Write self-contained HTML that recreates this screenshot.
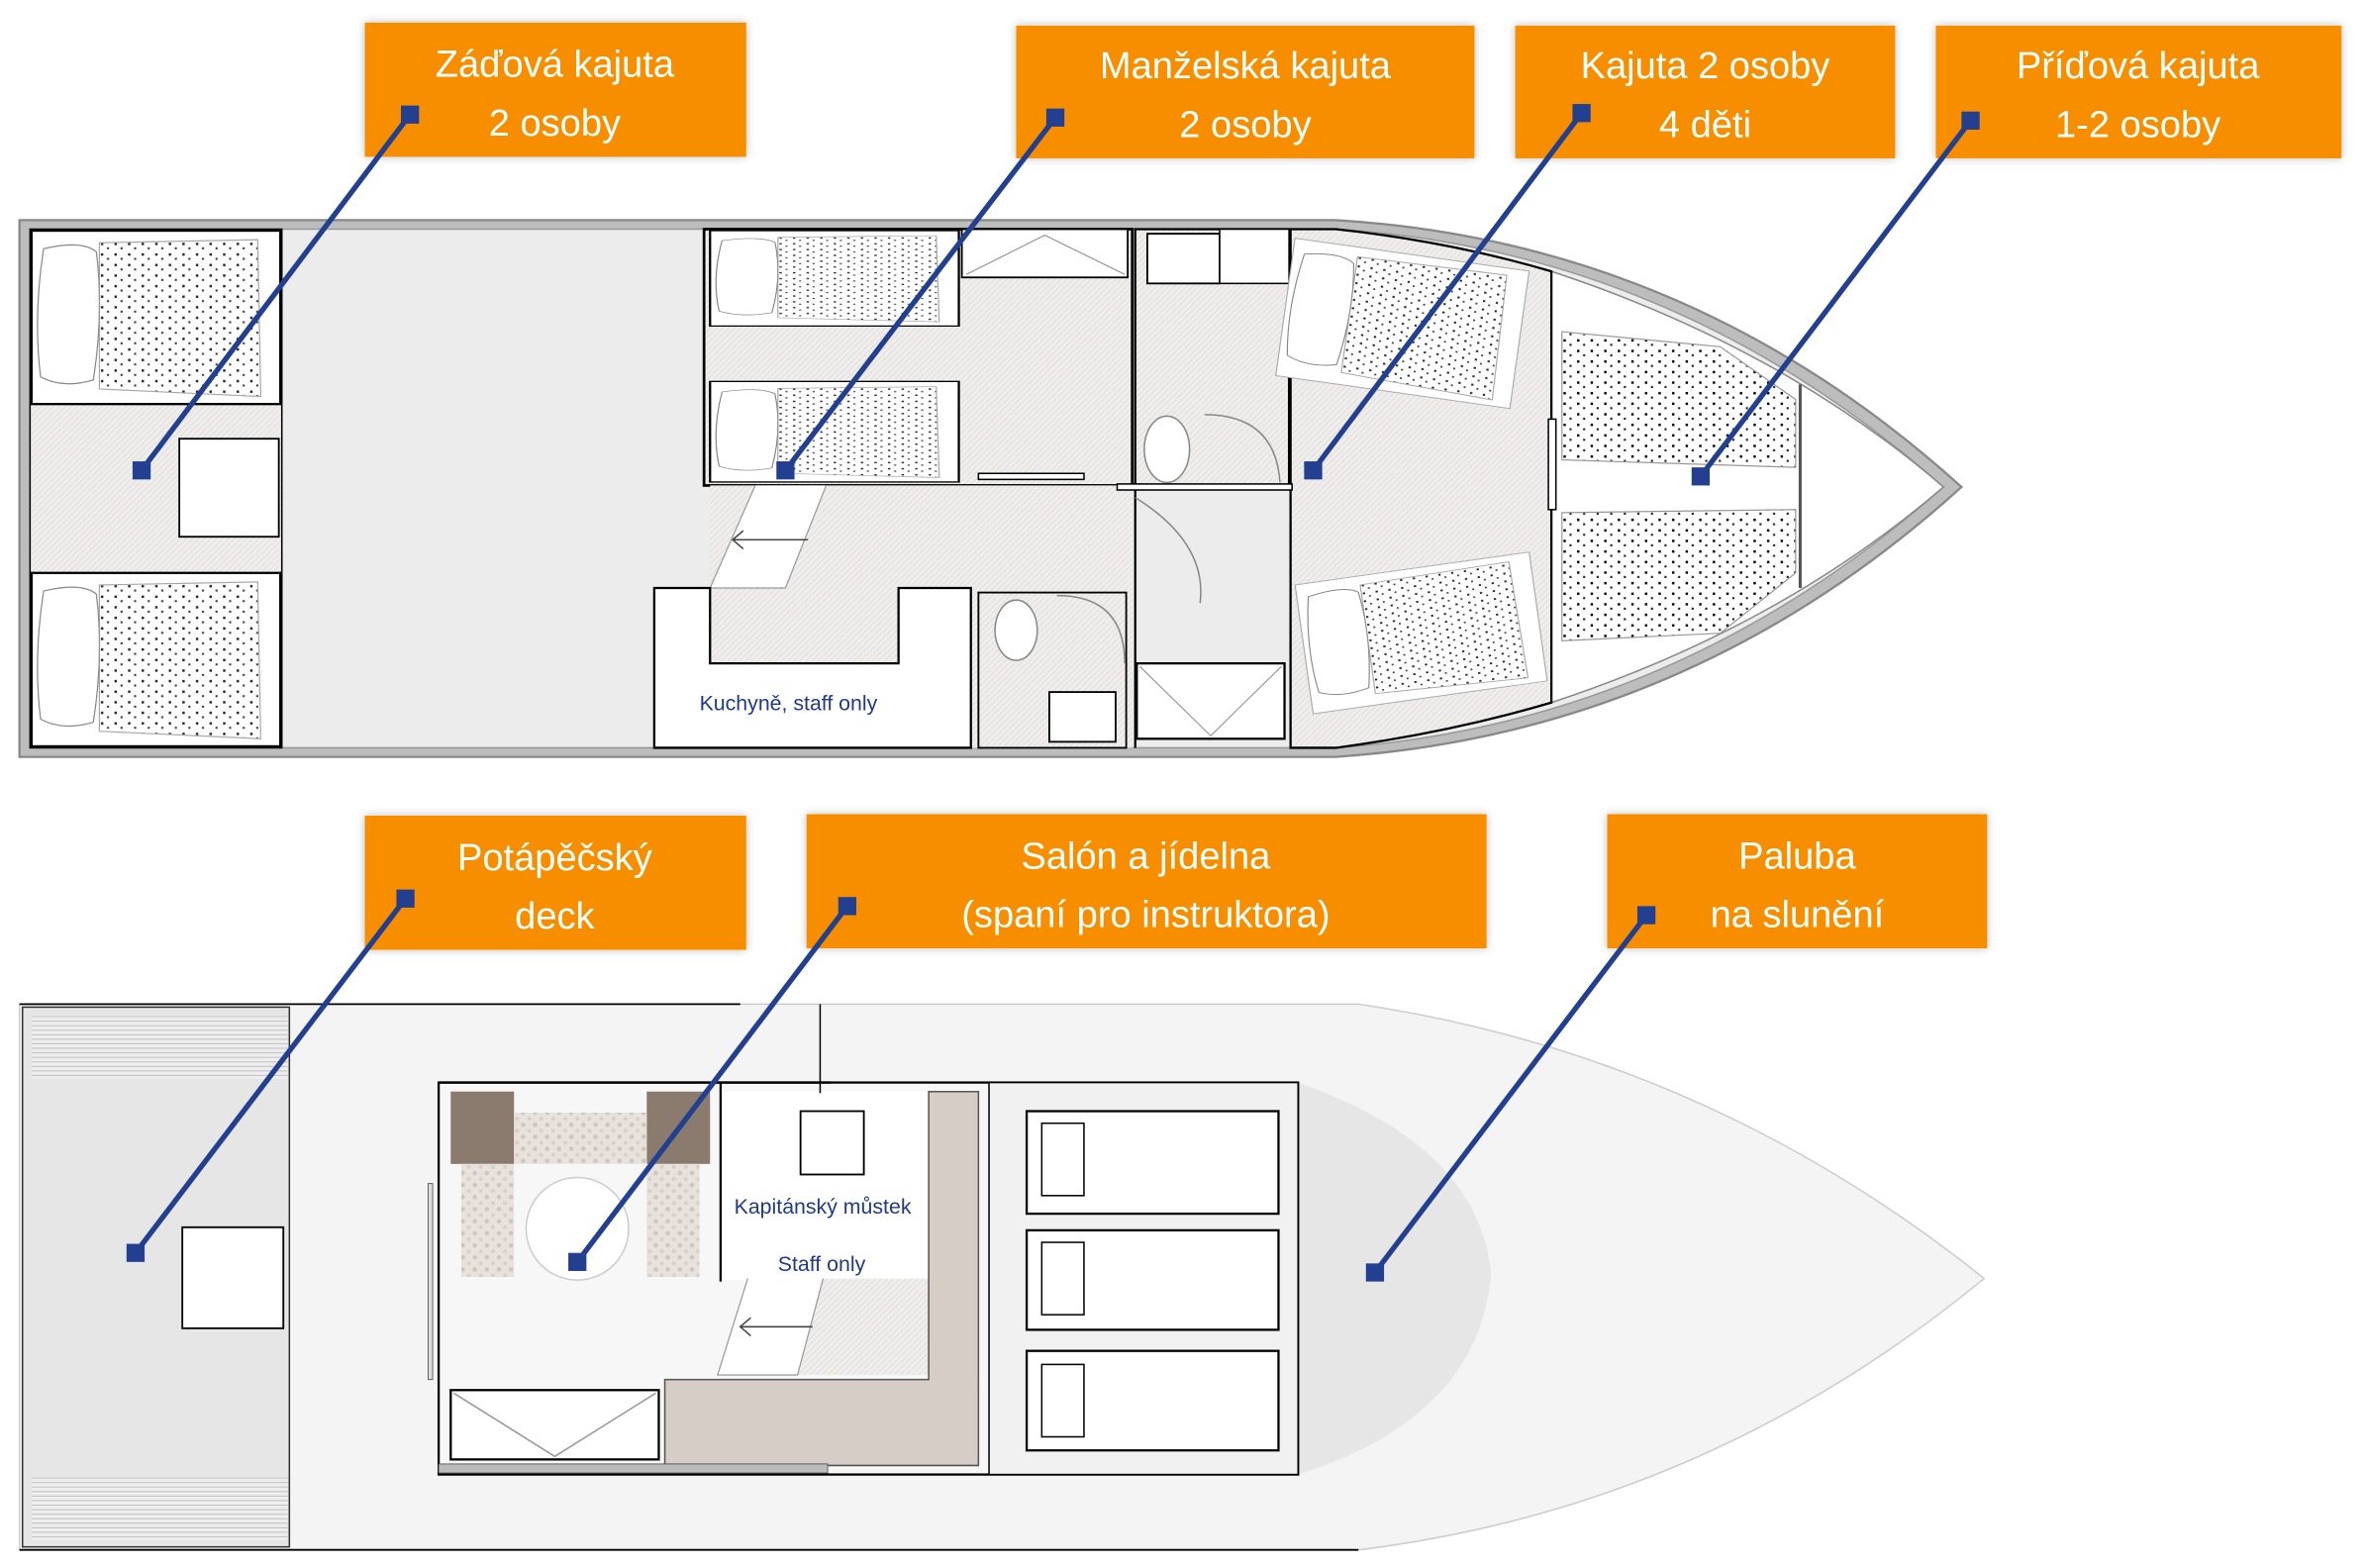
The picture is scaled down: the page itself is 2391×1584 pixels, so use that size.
<!DOCTYPE html>
<html><head><meta charset="utf-8"><style>
html,body{margin:0;padding:0;background:#fff;}
svg{display:block;}
.lbl{font-family:"Liberation Sans",sans-serif;font-size:25px;fill:#fff;text-anchor:middle;}
.sm{font-family:"Liberation Sans",sans-serif;font-size:14px;fill:#1f3a8c;}
</style></head><body>
<svg width="2391" height="1584" viewBox="0 0 1568 1040" xmlns="http://www.w3.org/2000/svg">
<defs>
<pattern id="dots" width="9" height="7" patternUnits="userSpaceOnUse"><rect x="1" y="1" width="1.6" height="1.6" fill="#000"/><rect x="5" y="4" width="1.4" height="1.4" fill="#222"/></pattern>
<pattern id="hatch" width="4" height="4" patternUnits="userSpaceOnUse"><rect width="4" height="4" fill="#f0eeec"/><path d="M0 4L4 0" stroke="#e0dcda" stroke-width="0.6"/></pattern>
<pattern id="stone" width="8" height="8" patternUnits="userSpaceOnUse"><rect width="8" height="8" fill="#e8e2dc"/><circle cx="2" cy="2" r="1.5" fill="#cfc6be"/><circle cx="6" cy="6" r="1.3" fill="#d8d0c8"/></pattern>
<pattern id="stripe" width="6" height="3" patternUnits="userSpaceOnUse"><rect width="6" height="3" fill="#eee"/><rect y="2" width="6" height="0.6" fill="#bbb"/></pattern>
<filter id="sh" x="-10%" y="-20%" width="120%" height="140%"><feDropShadow dx="0" dy="0" stdDeviation="3" flood-color="#000" flood-opacity="0.25"/></filter>
<g id="bedin"><path d="M8 12 q25-6 35 2 q5 40 -2 85 q-20 6 -35 -2 q-5-40 2-85z" fill="#fff" stroke="#888" stroke-width="0.8"/><path d="M45 8 L150 6 L152 110 L45 105 Z" fill="url(#dots)" stroke="#999" stroke-width="0.8" opacity="0.85"/></g>
<g id="bed"><rect x="0" y="0" width="165" height="115" fill="#fff" stroke="#000" stroke-width="1.5"/><use href="#bedin"/></g>
</defs>

<!-- TOP PLAN -->
<path d="M12 146 L885 146 Q1120 160 1300 323 Q1120 486 885 502 L12 502 Z" fill="#bdbdbd" stroke="#888" stroke-width="1.5"/>
<path d="M19 152 L885 152 Q1110 166 1288 323 Q1110 480 885 496 L19 496 Z" fill="#ececec" stroke="#999" stroke-width="1"/>
<path d="M1028 180 Q1180 230 1288 323 Q1180 416 1028 466 Z" fill="#fff" stroke="#888"/>
<path d="M855 152 L885 152 Q960 160 1028 180 L1028 466 Q960 486 885 496 L855 496 Z" fill="url(#hatch)" stroke="#000" stroke-width="1.5"/>
<rect x="19" y="152" width="167" height="344" fill="url(#hatch)" stroke="#000" stroke-width="1"/>
<use href="#bed" x="20" y="153"/>
<use href="#bed" x="20" y="380"/>
<rect x="118" y="291" width="66" height="65" fill="#fff" stroke="#000" stroke-width="1.2"/>
<rect x="466" y="152" width="284" height="170" fill="url(#hatch)" stroke="#000" stroke-width="1.8"/>
<g transform="translate(470 153) scale(1 0.55)"><use href="#bed"/></g>
<g transform="translate(470 253) scale(1 0.58)"><use href="#bed"/></g>
<rect x="637" y="152" width="110" height="32" fill="#fff" stroke="#000" stroke-width="1.2"/>
<path d="M640 182 L692 156 L745 182" fill="none" stroke="#999" stroke-width="0.8"/>
<rect x="648" y="314" width="70" height="4" fill="#fff" stroke="#000"/>
<path d="M470 322 L750 322 L750 496 L470 496 Z" fill="url(#hatch)"/>
<path d="M500 322 L470 390 L520 390 L547 322" fill="#fff" stroke="#999" stroke-width="0.8"/>
<path d="M535 358 L485 358 M492 352 L485 358 L492 364" fill="none" stroke="#444" stroke-width="1"/>
<path d="M433 390 L470 390 L470 440 L595 440 L595 390 L643 390 L643 496 L433 496 Z" fill="#fff" stroke="#000" stroke-width="1.5"/>
<text x="463" y="471" class="sm">Kuchyně, staff only</text>
<rect x="648" y="393" width="98" height="103" fill="url(#hatch)" stroke="#000" stroke-width="1.2"/>
<ellipse cx="673" cy="418" rx="14" ry="20" fill="#fff" stroke="#888"/>
<rect x="695" y="459" width="44" height="33" fill="#fff" stroke="#000" stroke-width="1.2"/>
<path d="M700 395 Q745 395 745 440" fill="none" stroke="#888"/>
<rect x="752" y="152" width="102" height="170" fill="url(#hatch)" stroke="#000" stroke-width="1.5"/>
<rect x="760" y="155" width="48" height="33" fill="#fff" stroke="#000" stroke-width="1.2"/>
<rect x="808" y="152" width="46" height="36" fill="#fff" stroke="#000"/>
<ellipse cx="773" cy="298" rx="15" ry="22" fill="#fff" stroke="#888"/>
<path d="M798 275 Q845 275 848 320" fill="none" stroke="#888"/>
<rect x="740" y="321" width="116" height="4" fill="#fff" stroke="#000"/>
<path d="M752 325 L752 496" stroke="#000" stroke-width="1.5"/>
<path d="M752 330 Q800 360 795 400" fill="none" stroke="#888"/>
<rect x="753" y="440" width="98" height="50" fill="#fff" stroke="#000" stroke-width="1.5"/>
<path d="M755 442 L802 488 L849 442" fill="none" stroke="#999" stroke-width="0.8"/>
<g transform="translate(858 158) rotate(8) scale(0.95 0.8)"><path d="M0 0 L165 0 L165 115 L0 115Z" fill="#fff" stroke="#aaa" stroke-width="0.8"/><use href="#bedin"/></g>
<g transform="translate(858 388) rotate(-8) scale(0.95 0.75)"><path d="M0 0 L165 0 L165 115 L0 115Z" fill="#fff" stroke="#aaa" stroke-width="0.8"/><use href="#bedin"/></g>
<rect x="1026" y="278" width="5" height="60" fill="#fff" stroke="#000"/>
<path d="M1035 220 L1140 230 L1190 265 L1190 310 L1035 305 Z" fill="url(#dots)" stroke="#999" stroke-width="0.8"/>
<path d="M1035 340 L1190 338 L1190 380 L1140 420 L1035 425 Z" fill="url(#dots)" stroke="#999" stroke-width="0.8"/>
<path d="M1193 255 L1193 390" stroke="#555" stroke-width="2"/>

<!-- BOTTOM PLAN -->
<path d="M12 666 L900 666 Q1130 700 1315 848 Q1130 1000 900 1028 L12 1028 Z" fill="#f4f4f4" stroke="#ccc"/>
<path d="M12 666 L490 666 M12 1028 L900 1028" stroke="#000" stroke-width="1.2"/>
<rect x="14" y="668" width="177" height="358" fill="#e6e6e6" stroke="#333"/>
<rect x="20" y="674" width="170" height="42" fill="url(#stripe)"/>
<rect x="20" y="980" width="170" height="42" fill="url(#stripe)"/>
<rect x="120" y="814" width="67" height="67" fill="#fff" stroke="#000" stroke-width="1.2"/>
<path d="M860 718 Q980 760 988 845 Q980 940 860 978 Z" fill="#e6e6e6"/>
<rect x="290" y="718" width="570" height="260" fill="#f7f7f7" stroke="#000" stroke-width="1.5"/>
<rect x="655" y="718" width="205" height="260" fill="#f1f1f1" stroke="#000" stroke-width="1"/>
<g fill="#fff" stroke="#000" stroke-width="1.5">
<rect x="680" y="737" width="167" height="68"/><rect x="680" y="816" width="167" height="66"/><rect x="680" y="896" width="167" height="66"/>
<rect x="690" y="745" width="28" height="48" stroke-width="1"/><rect x="690" y="824" width="28" height="48" stroke-width="1"/><rect x="690" y="905" width="28" height="48" stroke-width="1"/>
</g>
<rect x="298" y="724" width="42" height="48" fill="#8b7b6e"/>
<rect x="428" y="724" width="42" height="48" fill="#8b7b6e"/>
<rect x="340" y="738" width="88" height="34" fill="url(#stone)"/>
<rect x="305" y="772" width="35" height="75" fill="url(#stone)"/>
<rect x="428" y="772" width="35" height="75" fill="url(#stone)"/>
<circle cx="382" cy="815" r="34" fill="#fff" stroke="#ccc"/>
<rect x="283" y="785" width="3" height="130" fill="#ddd" stroke="#555" stroke-width="0.6"/>
<rect x="477" y="724" width="138" height="125" fill="#fff"/>
<rect x="530" y="737" width="42" height="42" fill="#fff" stroke="#000" stroke-width="1.2"/>
<text x="486" y="805" class="sm">Kapitánský můstek</text>
<text x="515" y="843" class="sm">Staff only</text>
<path d="M543 666 L543 725" stroke="#000"/>
<path d="M477 718 L477 850 M290 718 L550 718" stroke="#000" stroke-width="1.5"/>
<rect x="528" y="848" width="88" height="64" fill="url(#hatch)"/>
<path d="M495 848 L475 912 L528 912 L545 848" fill="#fff" stroke="#999" stroke-width="0.8"/>
<path d="M538 880 L490 880 M497 874 L490 880 L497 886" fill="none" stroke="#444"/>
<path d="M615 724 L648 724 L648 972 L440 972 L440 915 L615 915 Z" fill="#d6cdc6" stroke="#555"/>
<rect x="298" y="922" width="138" height="46" fill="#fff" stroke="#000" stroke-width="1.5"/>
<path d="M300 924 L367 966 L434 924" fill="none" stroke="#999"/>
<rect x="290" y="971" width="258" height="6" fill="#bbb" stroke="#555" stroke-width="0.6"/>

<!-- LABELS -->
<g filter="url(#sh)" fill="#f78e05">
<rect x="241" y="15" width="253" height="89"/>
<rect x="673" y="17" width="304" height="88"/>
<rect x="1004" y="17" width="252" height="88"/>
<rect x="1283" y="17" width="269" height="88"/>
<rect x="241" y="541" width="253" height="89"/>
<rect x="534" y="540" width="451" height="89"/>
<rect x="1065" y="540" width="252" height="89"/>
</g>
<text class="lbl" x="367" y="51">Záďová kajuta</text><text class="lbl" x="367" y="90">2 osoby</text>
<text class="lbl" x="825" y="52">Manželská kajuta</text><text class="lbl" x="825" y="91">2 osoby</text>
<text class="lbl" x="1130" y="52">Kajuta 2 osoby</text><text class="lbl" x="1130" y="91">4 děti</text>
<text class="lbl" x="1417" y="52">Příďová kajuta</text><text class="lbl" x="1417" y="91">1-2 osoby</text>
<text class="lbl" x="367" y="577">Potápěčský</text><text class="lbl" x="367" y="616">deck</text>
<text class="lbl" x="759" y="576">Salón a jídelna</text><text class="lbl" x="759" y="615">(spaní pro instruktora)</text>
<text class="lbl" x="1191" y="576">Paluba</text><text class="lbl" x="1191" y="615">na slunění</text>

<g stroke="#233f8f" stroke-width="3.5" fill="#233f8f">
<line x1="271" y1="76" x2="93" y2="312"/>
<line x1="699" y1="78" x2="520" y2="312"/>
<line x1="1048" y1="75" x2="870" y2="312"/>
<line x1="1306" y1="80" x2="1127" y2="316"/>
<line x1="268" y1="596" x2="89" y2="831"/>
<line x1="561" y1="601" x2="382" y2="837"/>
<line x1="1091" y1="607" x2="911" y2="844"/>
</g>
<g fill="#233f8f">
<rect x="265" y="70" width="12" height="12"/><rect x="87" y="306" width="12" height="12"/>
<rect x="693" y="72" width="12" height="12"/><rect x="514" y="306" width="12" height="12"/>
<rect x="1042" y="69" width="12" height="12"/><rect x="864" y="306" width="12" height="12"/>
<rect x="1300" y="74" width="12" height="12"/><rect x="1121" y="310" width="12" height="12"/>
<rect x="262" y="590" width="12" height="12"/><rect x="83" y="825" width="12" height="12"/>
<rect x="555" y="595" width="12" height="12"/><rect x="376" y="831" width="12" height="12"/>
<rect x="1085" y="601" width="12" height="12"/><rect x="905" y="838" width="12" height="12"/>
</g>
</svg>
</body></html>
